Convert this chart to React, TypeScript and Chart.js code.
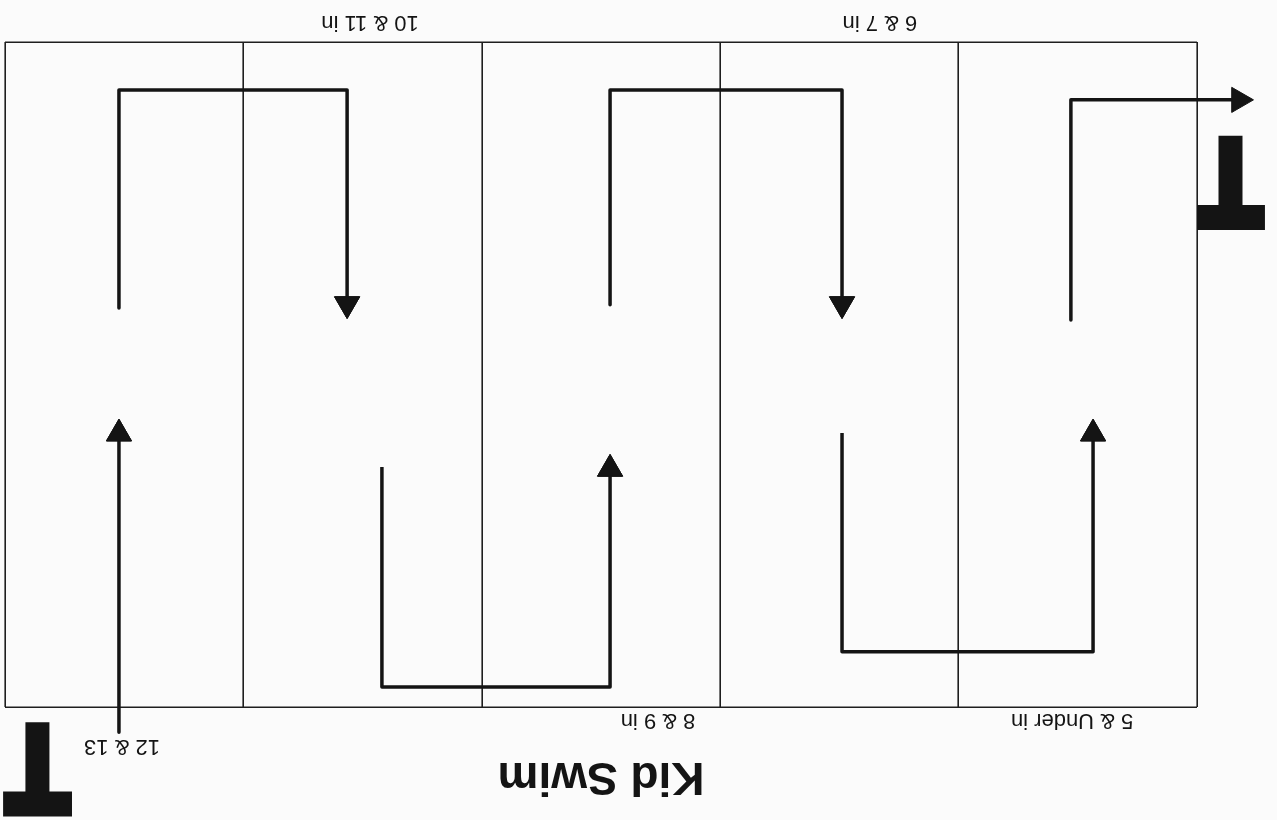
import React, { useEffect, useRef } from "react";
import { Chart, registerables } from "chart.js";

Chart.register(...registerables);

// Pool: x = lane position (0..5, five lanes), y = distance along the pool (0..100)
const laneBounds = [0, 5];
const poolLength = [0, 100];

const laneLabels = ["5 & Under in", "6 & 7 in", "8 & 9 in", "10 & 11 in", "12 & 13"];
const laneLabelLane = [0.524, 1.33, 2.261, 3.469, 4.509];
const laneLabelDepth = [102.0, -3.0, 102.0, -3.0, 105.9];

const titleText = "Kid Swim";

// Swim route legs: [lane position, distance]
const legStart: number[][] = [[4.522, 103.8], [4.522, 58.9]];
const legLane5to4: number[][] = [[4.522, 40.0], [4.522, 7.2], [3.565, 7.2], [3.565, 39.4]];
const legLane4to3: number[][] = [[3.419, 63.9], [3.419, 97.0], [2.462, 97.0], [2.462, 64.2]];
const legLane3to2: number[][] = [[2.462, 39.5], [2.462, 7.2], [1.489, 7.2], [1.489, 39.4]];
const legLane2to1: number[][] = [[1.489, 58.8], [1.489, 91.7], [0.436, 91.7], [0.436, 58.9]];
const legFinish: number[][] = [[0.529, 41.8], [0.529, 8.7], [-0.176, 8.7]];

// Start / finish blocks (T marks): stem and bar
const startBlockStem: number[][] = [[4.864, 102.3], [4.864, 113.2]];
const startBlockBar: number[][] = [[5.008, 114.6], [4.719, 114.6]];
const finishBlockStem: number[][] = [[-0.1405, 14.1], [-0.1405, 25.0]];
const finishBlockBar: number[][] = [[0.0, 26.4], [-0.285, 26.4]];

const INK = "#141414";
const LEG_COUNT = 6;

const toPts = (a: number[][]) => a.map(([x, y]) => ({ x, y }));

const textPlugin = {
  id: "poolText",
  afterDatasetsDraw(chart: any) {
    const { ctx, scales, chartArea } = chart;
    const xs = scales.x;
    const ys = scales.y;
    ctx.save();
    // arrowheads that sit outside the pool outline are skipped by Chart.js; draw every leg's head
    const wide = { left: -1e5, right: 1e5, top: -1e5, bottom: 1e5 };
    for (let i = 0; i < LEG_COUNT; i++) {
      const meta = chart.getDatasetMeta(i);
      const el = meta.data[meta.data.length - 1];
      if (el) el.draw(ctx, wide);
    }
    ctx.fillStyle = INK;
    ctx.textAlign = "center";
    ctx.textBaseline = "middle";
    ctx.font = '22px "Liberation Sans", Arial, sans-serif';
    laneLabels.forEach((t, i) => {
      ctx.fillText(t, xs.getPixelForValue(laneLabelLane[i]), ys.getPixelForValue(laneLabelDepth[i]));
    });
    ctx.font = 'bold 46px "Liberation Sans", Arial, sans-serif';
    ctx.fillText(titleText, (chartArea.left + chartArea.right) / 2, 44);
    ctx.restore();
  },
};

export default function App() {
  const ref = useRef<HTMLCanvasElement | null>(null);

  useEffect(() => {
    if (!ref.current) return;
    const legs = [legStart, legLane5to4, legLane4to3, legLane3to2, legLane2to1, legFinish];
    const blocks = [startBlockStem, startBlockBar, finishBlockStem, finishBlockBar];

    const legSets = legs.map((leg) => ({
      data: toPts(leg),
      showLine: true,
      clip: false,
      borderColor: INK,
      borderWidth: 3.5,
      borderJoinStyle: "round" as const,
      borderCapStyle: "butt" as const,
      pointStyle: "triangle" as const,
      pointBackgroundColor: INK,
      pointBorderColor: INK,
      pointBorderWidth: 1,
      pointRadius: (c: any) => (c.dataIndex === c.dataset.data.length - 1 ? 14.5 : 0),
      pointRotation: (c: any) => {
        const d = c.dataset.data;
        const i = c.dataIndex;
        if (i === 0) return 0;
        const dx = d[i].x - d[i - 1].x;
        const dy = d[i].y - d[i - 1].y;
        return (Math.atan2(dx, dy) * 180) / Math.PI;
      },
    }));

    const blockSets = blocks.map((b, i) => ({
      data: toPts(b),
      showLine: true,
      clip: false,
      borderColor: INK,
      borderWidth: i % 2 === 0 ? 24 : 25,
      borderCapStyle: "butt" as const,
      pointRadius: 0,
    }));

    const chart = new Chart(ref.current, {
      type: "scatter",
      data: { datasets: [...legSets, ...blockSets] as any },
      options: {
        responsive: false,
        animation: false,
        events: [],
        layout: { autoPadding: false, padding: { left: 80, right: 5, top: 113, bottom: 42 } },
        plugins: { legend: { display: false }, tooltip: { enabled: false }, title: { display: false } },
        scales: {
          x: {
            type: "linear",
            min: laneBounds[0],
            max: laneBounds[1],
            ticks: { stepSize: 1, display: false },
            grid: { color: "#1e1e1e", lineWidth: 1.6, drawTicks: false },
            border: { display: false },
          },
          y: {
            type: "linear",
            min: poolLength[0],
            max: poolLength[1],
            ticks: { stepSize: 100, display: false },
            grid: { color: "#1e1e1e", lineWidth: 1.6, drawTicks: false },
            border: { display: false },
          },
        },
      } as any,
      plugins: [textPlugin],
    });
    return () => chart.destroy();
  }, []);

  return (
    <div
      style={{
        position: "fixed",
        left: 0,
        top: 0,
        width: 1277,
        height: 820,
        background: "#fbfbfb",
        transform: "rotate(180deg)",
      }}
    >
      <canvas ref={ref} width={1277} height={820} style={{ display: "block" }} />
    </div>
  );
}
